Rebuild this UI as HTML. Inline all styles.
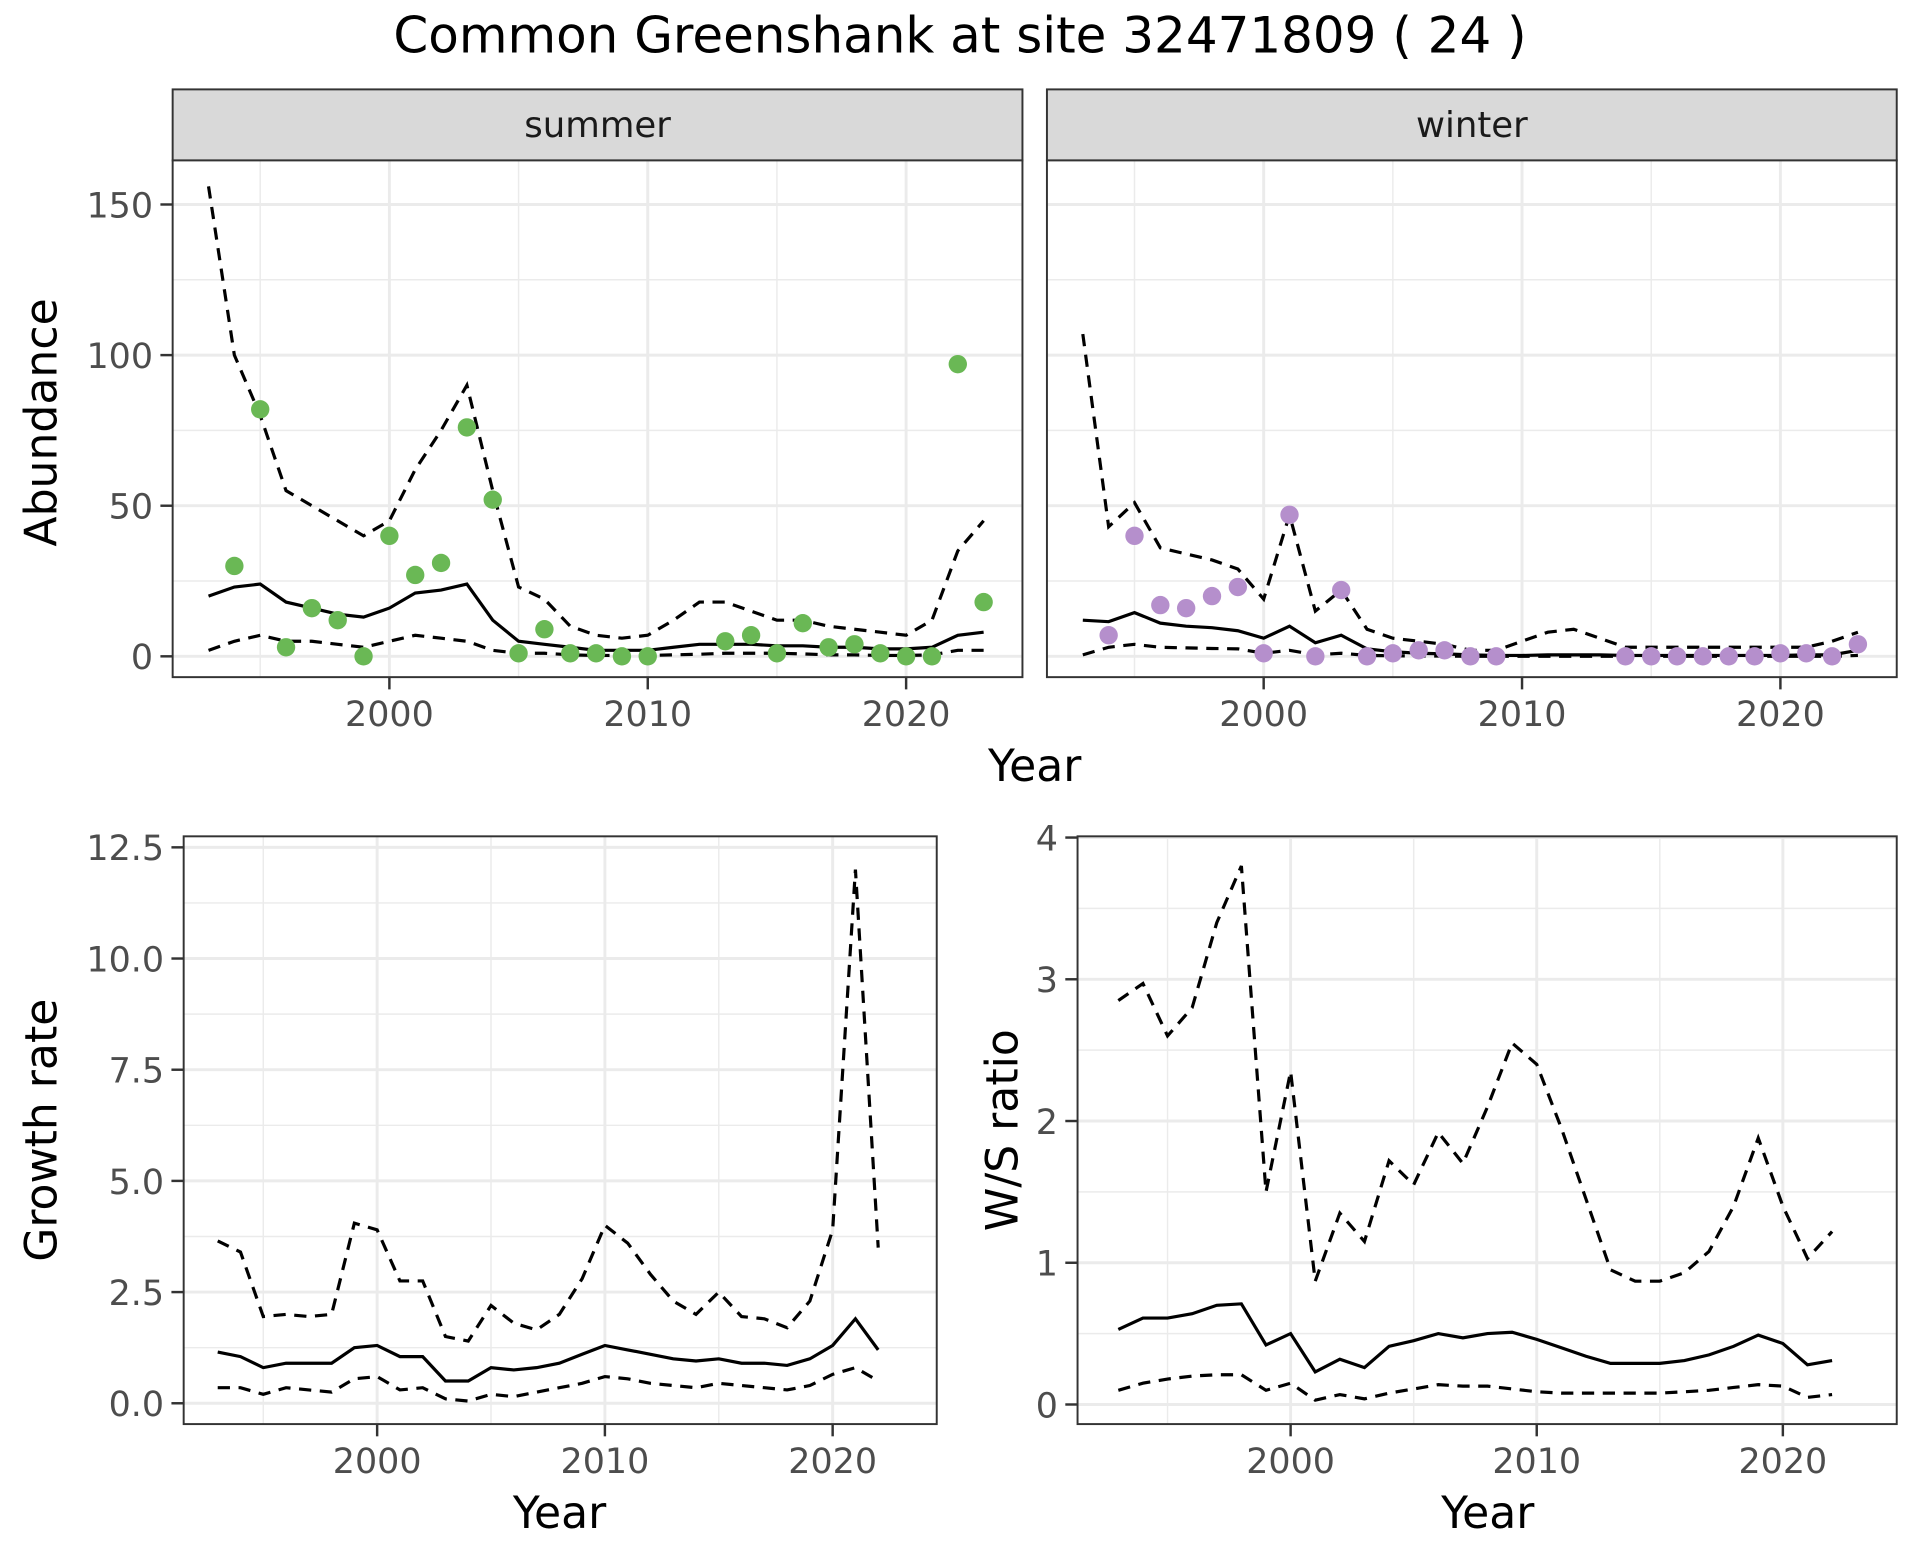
<!DOCTYPE html>
<html><head><meta charset="utf-8"><style>
html,body{margin:0;padding:0;background:#fff;}
svg text{font-family:"DejaVu Sans","Liberation Sans",sans-serif;}
</style></head><body>
<svg id="chart" width="1920" height="1560" viewBox="0 0 1568 1274" xmlns="http://www.w3.org/2000/svg">
<rect width="1568" height="1274" fill="#fff"/>
<text x="784" y="43" text-anchor="middle" font-size="40.8" fill="#000">Common Greenshank at site 32471809 ( 24 )</text>
</svg>
<script>
const years = [1993,1994,1995,1996,1997,1998,1999,2000,2001,2002,2003,2004,2005,2006,2007,2008,2009,2010,2011,2012,2013,2014,2015,2016,2017,2018,2019,2020,2021,2022,2023];
const summerMean = [20,23,24,18,16,14,13,16,21,22,24,12,5,4,3,2,2,2,3,4,4,4,3.5,3.5,3,3,2.5,2.5,3,7,8];
const summerUpper = [156,100,80,55,50,45,40,45,62,75,90,55,23,19,10,7,6,7,12,18,18,15,12,12,10,9,8,7,12,35,45];
const summerLower = [2,5,7,5,5,4,3,5,7,6,5,2,1,1,0.5,0.3,0.3,0.3,0.5,0.7,1,1,1,0.8,0.5,0.5,0.3,0.3,0.5,2,2];
const summerPtYears = [1994,1995,1996,1997,1998,1999,2000,2001,2002,2003,2004,2005,2006,2007,2008,2009,2010,2013,2014,2015,2016,2017,2018,2019,2020,2021,2022,2023];
const summerPts = [30,82,3,16,12,0,40,27,31,76,52,1,9,1,1,0,0,5,7,1,11,3,4,1,0,0,97,18];
const winterMean = [12,11.5,14.5,11,10,9.5,8.5,6,10,4.5,7,2.5,1.5,1,0.8,0.5,0.3,0.3,0.5,0.5,0.5,0.3,0.3,0.3,0.3,0.3,0.3,0.3,0.5,0.5,2];
const winterUpper = [107,43,51,36,34,32,29,19,47,15,22,9,6,5,4,2,2,5,8,9,6,3,3,3,3,3,3,3,3,5,8];
const winterLower = [0.5,3,4,3,2.8,2.6,2.5,1,2,0.5,1,0.3,0.2,0.1,0.1,0,0,0,0,0,0,0,0,0,0,0,0,0,0,0,0.3];
const winterPtYears = [1994,1995,1996,1997,1998,1999,2000,2001,2002,2003,2004,2005,2006,2007,2008,2009,2014,2015,2016,2017,2018,2019,2020,2021,2022,2023];
const winterPts = [7,40,17,16,20,23,1,47,0,22,0,1,2,2,0,0,0,0,0,0,0,0,1,1,0,4];
const rateYears = [1993,1994,1995,1996,1997,1998,1999,2000,2001,2002,2003,2004,2005,2006,2007,2008,2009,2010,2011,2012,2013,2014,2015,2016,2017,2018,2019,2020,2021,2022];
const growthMean = [1.15,1.05,0.8,0.9,0.9,0.9,1.25,1.3,1.05,1.05,0.5,0.5,0.8,0.75,0.8,0.9,1.1,1.3,1.2,1.1,1.0,0.95,1.0,0.9,0.9,0.85,1.0,1.3,1.9,1.2];
const growthUpper = [3.65,3.4,1.95,2.0,1.95,2.0,4.05,3.9,2.75,2.75,1.5,1.4,2.2,1.8,1.65,2.0,2.8,4.0,3.6,2.9,2.3,2.0,2.5,1.95,1.9,1.7,2.3,3.9,12.0,3.5];
const growthLower = [0.35,0.35,0.2,0.35,0.3,0.25,0.55,0.6,0.3,0.35,0.1,0.05,0.2,0.15,0.25,0.35,0.45,0.6,0.55,0.45,0.4,0.35,0.45,0.4,0.35,0.3,0.4,0.65,0.8,0.5];
const ratioMean = [0.53,0.61,0.61,0.64,0.70,0.71,0.42,0.50,0.23,0.32,0.26,0.41,0.45,0.50,0.47,0.50,0.51,0.46,0.40,0.34,0.29,0.29,0.29,0.31,0.35,0.41,0.49,0.43,0.28,0.31];
const ratioUpper = [2.85,2.97,2.6,2.8,3.4,3.8,1.5,2.35,0.87,1.35,1.15,1.72,1.55,1.92,1.7,2.1,2.55,2.4,1.95,1.45,0.95,0.87,0.87,0.93,1.08,1.4,1.88,1.4,1.03,1.22];
const ratioLower = [0.1,0.15,0.18,0.2,0.21,0.21,0.1,0.15,0.03,0.07,0.04,0.08,0.11,0.14,0.13,0.13,0.11,0.09,0.08,0.08,0.08,0.08,0.08,0.09,0.1,0.12,0.14,0.13,0.05,0.07];
const xTicks = [2000,2010,2020];
const xMinor = [1995,2005,2015];
const abTicks = [0,50,100,150];
const abMinor = [25,75,125];
const grTicks = [0,2.5,5,7.5,10,12.5];
const grTickLabels = ["0.0","2.5","5.0","7.5","10.0","12.5"];
const grMinor = [1.25,3.75,6.25,8.75,11.25];
const raTicks = [0,1,2,3,4];
const raMinor = [0.5,1.5,2.5,3.5];

const svg = document.getElementById('chart');
const NS = 'http://www.w3.org/2000/svg';
function mk(tag, attrs, parent){
  const e = document.createElementNS(NS, tag);
  for (const k in attrs) e.setAttribute(k, attrs[k]);
  (parent||svg).appendChild(e);
  return e;
}
function lin(d0,d1,r0,r1){ return v => r0 + (v-d0)*(r1-r0)/(d1-d0); }

function panel(name, box, xs, ys, yTicks, yMinor, yLabels, showY, showX){
  const g = mk('g', {});
  
  
  mk('rect', {x:box.x0, y:box.y0, width:box.x1-box.x0, height:box.y1-box.y0, fill:'#fff'}, g);
  yMinor.forEach(v => mk('line', {x1:box.x0, x2:box.x1, y1:ys(v), y2:ys(v), stroke:'#ebebeb', 'stroke-width':1.2}, g));
  xMinor.forEach(v => mk('line', {y1:box.y0, y2:box.y1, x1:xs(v), x2:xs(v), stroke:'#ebebeb', 'stroke-width':1.2}, g));
  yTicks.forEach(v => mk('line', {x1:box.x0, x2:box.x1, y1:ys(v), y2:ys(v), stroke:'#ebebeb', 'stroke-width':2.4}, g));
  xTicks.forEach(v => mk('line', {y1:box.y0, y2:box.y1, x1:xs(v), x2:xs(v), stroke:'#ebebeb', 'stroke-width':2.4}, g));
  if (showY) yTicks.forEach((v,i) => {
    mk('line', {x1:box.x0-10, x2:box.x0, y1:ys(v), y2:ys(v), stroke:'#333', 'stroke-width':2}, g);
    const t = mk('text', {x:box.x0-16, y:ys(v)+10.5, 'text-anchor':'end', 'font-size':28.5, fill:'#4d4d4d'}, g);
    t.textContent = yLabels[i];
    
    
  });
  if (showX) xTicks.forEach(v => {
    mk('line', {y1:box.y1, y2:box.y1+10, x1:xs(v), x2:xs(v), stroke:'#333', 'stroke-width':2}, g);
    const t = mk('text', {x:xs(v), y:box.y1+40, 'text-anchor':'middle', 'font-size':28.5, fill:'#4d4d4d'}, g);
    t.textContent = String(v);
    
    
  });
  return g;
}
function series(g, name, xv, yv, xs, ys, dash){
  const d = xv.map((x,i) => (i?'L':'M') + xs(x).toFixed(1) + ',' + ys(yv[i]).toFixed(1)).join('');
  const p = mk('path', {d:d, fill:'none', stroke:'#000', 'stroke-width':2.6, 'stroke-dasharray': dash ? '10,7' : 'none'}, g);
  
  
}
function points(g, name, xv, yv, xs, ys, color){
  xv.forEach((x,i) => {
    const c = mk('circle', {cx:xs(x), cy:ys(yv[i]), r:7.5, fill:color}, g);
    
    
  });
}
function border(g, box){
  mk('rect', {x:box.x0, y:box.y0, width:box.x1-box.x0, height:box.y1-box.y0, fill:'none', stroke:'#333', 'stroke-width':1.6}, g);
}
function strip(name, box, label){
  const g = mk('g', {});
  
  
  mk('rect', {x:box.x0, y:73, width:box.x1-box.x0, height:58, fill:'#d9d9d9', stroke:'#333', 'stroke-width':1.6}, g);
  const t = mk('text', {x:(box.x0+box.x1)/2, y:112, 'text-anchor':'middle', 'font-size':29, fill:'#1a1a1a'}, g);
  t.textContent = label;
}
function label(name, x, y, txt, rot){
  const t = mk('text', {x:x, y:y, 'text-anchor':'middle', 'font-size':36, fill:'#000'});
  if (rot) t.setAttribute('transform', 'rotate(-90 '+x+' '+y+')');
  t.textContent = txt;
  
  
}

// summer
const sBox = {x0:141, x1:835, y0:131, y1:553};
const sx = lin(2000,2020,318,740), sy = lin(0,150,536,167);
strip('strip-summer', sBox, 'summer');
let g = panel('panel-summer', sBox, sx, sy, abTicks, abMinor, abTicks.map(String), true, true);
series(g, 'summer-upper', years, summerUpper, sx, sy, true);
series(g, 'summer-lower', years, summerLower, sx, sy, true);
series(g, 'summer-mean', years, summerMean, sx, sy, false);
points(g, 'summer-point', summerPtYears, summerPts, sx, sy, '#6ab855');
border(g, sBox);

// winter
const wBox = {x0:855, x1:1549, y0:131, y1:553};
const wx = lin(2000,2020,1032,1454);
strip('strip-winter', wBox, 'winter');
g = panel('panel-winter', wBox, wx, sy, abTicks, abMinor, abTicks.map(String), false, true);
series(g, 'winter-upper', years, winterUpper, wx, sy, true);
series(g, 'winter-lower', years, winterLower, wx, sy, true);
series(g, 'winter-mean', years, winterMean, wx, sy, false);
points(g, 'winter-point', winterPtYears, winterPts, wx, sy, '#b58fcc');
border(g, wBox);
label('y-axis-title-abundance', 46, 345, 'Abundance', true);
label('x-axis-title-top', 845, 638, 'Year', false);

// growth
const gBox = {x0:150, x1:765, y0:683, y1:1163};
const gx = lin(2000,2020,308,680), gy = lin(0,12.5,1146,692);
g = panel('panel-growth', gBox, gx, gy, grTicks, grMinor, grTickLabels, true, true);
series(g, 'growth-upper', rateYears, growthUpper, gx, gy, true);
series(g, 'growth-lower', rateYears, growthLower, gx, gy, true);
series(g, 'growth-mean', rateYears, growthMean, gx, gy, false);
border(g, gBox);
label('y-axis-title-growth', 46, 923, 'Growth rate', true);
label('x-axis-title-growth', 457, 1248, 'Year', false);

// ratio
const rBox = {x0:880, x1:1549, y0:683, y1:1163};
const rx = lin(2000,2020,1054,1456), ry = lin(0,4,1147,684);
g = panel('panel-ratio', rBox, rx, ry, raTicks, raMinor, raTicks.map(String), true, true);
series(g, 'ratio-upper', rateYears, ratioUpper, rx, ry, true);
series(g, 'ratio-lower', rateYears, ratioLower, rx, ry, true);
series(g, 'ratio-mean', rateYears, ratioMean, rx, ry, false);
border(g, rBox);
label('y-axis-title-ratio', 831, 923, 'W/S ratio', true);
label('x-axis-title-ratio', 1215, 1248, 'Year', false);
</script>
</body></html>
